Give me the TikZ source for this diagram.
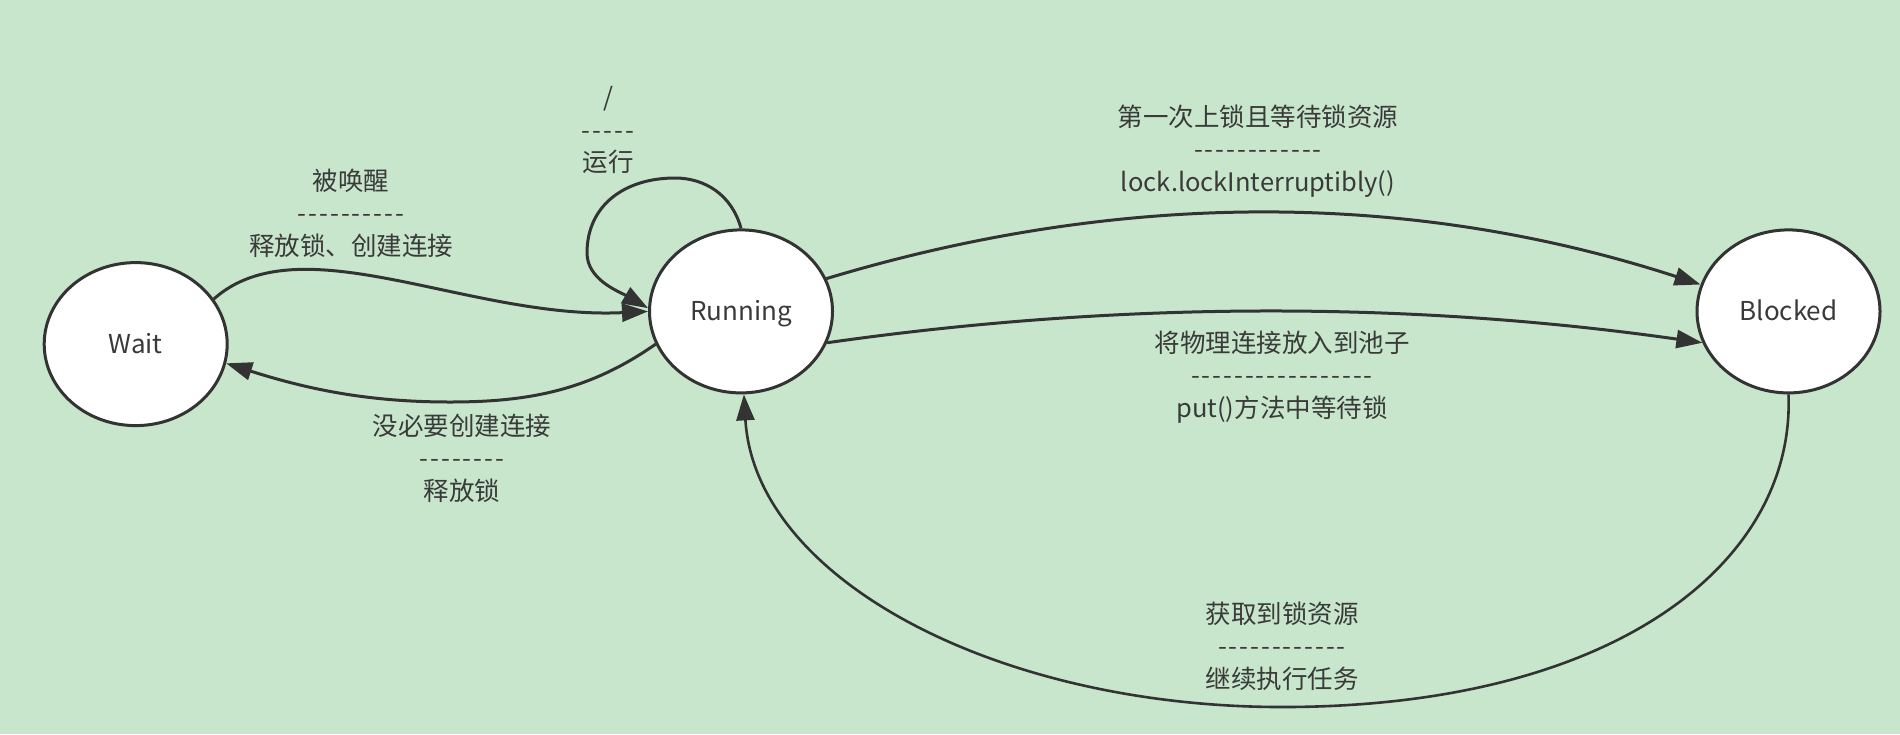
\documentclass[tikz,border=0pt]{standalone}
\usepackage{fontspec}
\newfontfamily\cjkfont{Noto Sans CJK SC}
\usetikzlibrary{arrows.meta,shapes.geometric}
\definecolor{bg}{RGB}{199,230,203}
\definecolor{ink}{RGB}{51,51,51}
\definecolor{txt}{RGB}{58,58,58}
\newcommand\dd{\makebox[10.8pt]{-}}
\tikzset{
  state/.style={ellipse, draw=ink, line width=3pt, fill=white, inner sep=0pt,
    minimum width=183pt, minimum height=163pt, text=txt,
    text height=18.5pt, text depth=0pt,
    font=\cjkfont\fontsize{26}{30}\selectfont},
  lbl/.style={align=center, text=txt, inner sep=0pt,
    font=\cjkfont\fontsize{25.5}{32.5}\selectfont},
  conn/.style={draw=ink, line width=3pt,
    -{Triangle[length=26pt,width=18pt]}},
}
\begin{document}
\begin{tikzpicture}[x=1pt,y=-1pt]
\fill[bg] (0,0) rectangle (1900,734);

\node[state] (wait) at (135.7,344.1) {Wait};
\node[state] (run) at (741,311.4) {Running};
\node[state] (blk) at (1788.5,311.4) {Blocked};

% Wait -> Running
\draw[conn] (wait.30) .. controls (300,222) and (470,320) .. (run.180);
% Running -> Wait
\draw[conn] (run.201) .. controls (590,390) and (530,402) .. (450,402)
  .. controls (370,402) and (310,390) .. (wait.348);
% self loop
\draw[conn] (run.90) .. controls (732,195) and (705,178) .. (675,178)
  .. controls (625,178) and (587,205) .. (587,253)
  .. controls (587,280) and (620,292) .. (run.178);
% Running -> Blocked (upper)
\draw[conn] (run.21) .. controls (1120,190) and (1410,190) .. (blk.163);
% Running -> Blocked (lower)
\draw[conn] (run.-20) .. controls (1119,301) and (1410,301) .. (blk.200);
% Blocked -> Running (bottom)
\draw[conn, line width=2.6pt] (blk.south) .. controls (1795,560) and (1620,705) .. (1289,707)
  .. controls (1000,709) and (755,580) .. (run.-88);

\node[lbl] (la) at (351,213) {被唤醒\\\dd\dd\dd\dd\dd\dd\dd\dd\dd\dd\\释放锁、创建连接};
\node[lbl] (lb) at (608,130) {/\\\dd\dd\dd\dd\dd\\运行};
\node[lbl] (lc) at (1258,151) {第一次上锁且等待锁资源\\\dd\dd\dd\dd\dd\dd\dd\dd\dd\dd\dd\dd\\lock.lockInterruptibly()};
\node[lbl] (ld) at (1282,377) {将物理连接放入到池子\\\dd\dd\dd\dd\dd\dd\dd\dd\dd\dd\dd\dd\dd\dd\dd\dd\dd\\put()方法中等待锁};
\node[lbl] (le) at (462,458) {没必要创建连接\\\dd\dd\dd\dd\dd\dd\dd\dd\\释放锁};
\node[lbl] (lf) at (1282,646) {获取到锁资源\\\dd\dd\dd\dd\dd\dd\dd\dd\dd\dd\dd\dd\\继续执行任务};
\end{tikzpicture}
\end{document}
